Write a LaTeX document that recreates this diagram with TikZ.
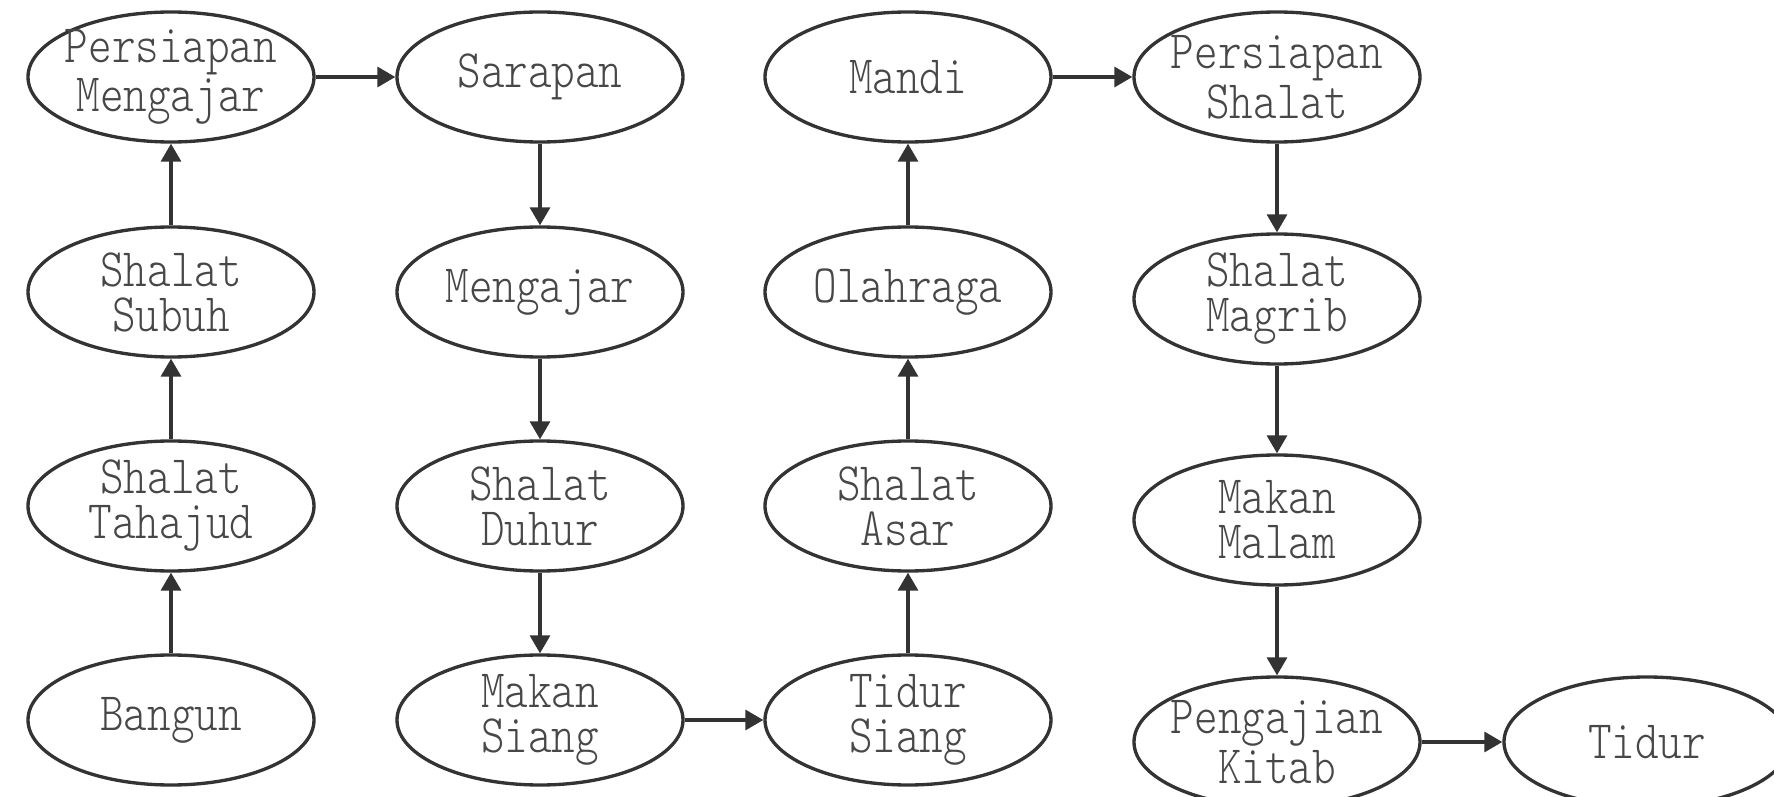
\documentclass[tikz,border=0pt]{standalone}
\usepackage{fontspec}
\newfontfamily\lblfont[FakeStretch=0.83]{lmmonolt10-regular.otf}
\usetikzlibrary{shapes.geometric,arrows.meta}
\definecolor{ink}{RGB}{51,51,51}

\begin{document}
\begin{tikzpicture}[
    act/.style={ellipse,draw=ink,line width=0.95pt,minimum width=2.86cm,minimum height=1.3cm,
      inner xsep=-3mm,inner ysep=-1mm,align=center,text=ink!90,
      font=\lblfont\fontsize{15.4}{12.8}\selectfont},
    arr/.style={-{Triangle[length=1.8mm,width=2mm]},line width=0.95pt,ink}
  ]
  \useasboundingbox (0,0) rectangle (17.74,7.96);

  % pagi
  \node[act] (bangun)   at (1.71,0.76) {Bangun};
  \node[act] (tahajud)  at (1.71,2.90) {Shalat\\Tahajud};
  \node[act] (subuh)    at (1.71,5.04) {Shalat\\Subuh};
  \node[act] (persiapanM) at (1.71,7.19) {Persiapan\\Mengajar};

  % siang
  \node[act] (sarapan)  at (5.40,7.19) {Sarapan};
  \node[act] (mengajar) at (5.40,5.04) {Mengajar};
  \node[act] (duhur)    at (5.40,2.90) {Shalat\\Duhur};
  \node[act] (makanS)   at (5.40,0.76) {Makan\\Siang};

  % sore
  \node[act] (tidurS)   at (9.08,0.76) {Tidur\\Siang};
  \node[act] (asar)     at (9.08,2.90) {Shalat\\Asar};
  \node[act] (olahraga) at (9.08,5.04) {Olahraga};
  \node[act] (mandi)    at (9.08,7.19) {Mandi};

  % malam
  \node[act] (persiapanS) at (12.77,7.19) {Persiapan\\Shalat};
  \node[act] (magrib)   at (12.77,4.97) {Shalat\\Magrib};
  \node[act] (makanM)   at (12.77,2.76) {Makan\\Malam};
  \node[act] (kitab)    at (12.77,0.54) {Pengajian\\Kitab};
  \node[act] (tidur)    at (16.47,0.54) {Tidur};

  \draw[arr] (bangun) -- (tahajud);
  \draw[arr] (tahajud) -- (subuh);
  \draw[arr] (subuh) -- (persiapanM);
  \draw[arr] (persiapanM) -- (sarapan);
  \draw[arr] (sarapan) -- (mengajar);
  \draw[arr] (mengajar) -- (duhur);
  \draw[arr] (duhur) -- (makanS);
  \draw[arr] (makanS) -- (tidurS);
  \draw[arr] (tidurS) -- (asar);
  \draw[arr] (asar) -- (olahraga);
  \draw[arr] (olahraga) -- (mandi);
  \draw[arr] (mandi) -- (persiapanS);
  \draw[arr] (persiapanS) -- (magrib);
  \draw[arr] (magrib) -- (makanM);
  \draw[arr] (makanM) -- (kitab);
  \draw[arr] (kitab) -- (tidur);
\end{tikzpicture}
\end{document}
